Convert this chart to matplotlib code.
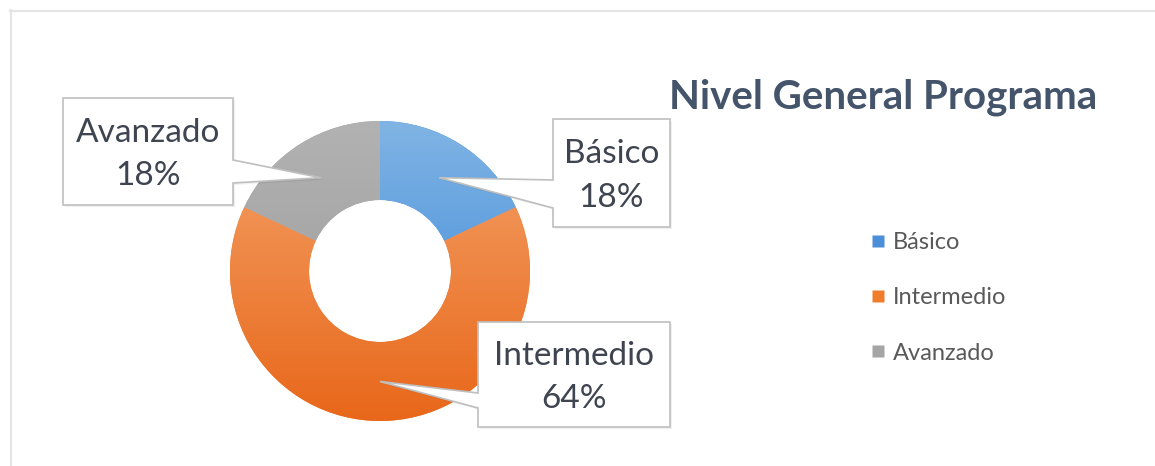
import numpy as np
import matplotlib.pyplot as plt
from matplotlib.colors import LinearSegmentedColormap
from matplotlib.patches import Polygon
from matplotlib.lines import Line2D

# Data
labels = ["Básico", "Intermedio", "Avanzado"]
values = [18, 64, 18]
pct_labels = ["18%", "64%", "18%"]

# Colours (light top -> darker bottom gradient, plus flat legend colours)
top_colors = ["#80B4E4", "#F4A36A", "#B2B2B2"]
bottom_colors = ["#3282D6", "#E8671A", "#989898"]
legend_colors = ["#4A8FD8", "#F07D2C", "#A5A5A5"]

TEXT_COLOR = "#3E4450"
TITLE_COLOR = "#44546A"
EDGE_COLOR = "#BFBFBF"
FONT = "Lato"

W, H = 1155, 466
fig = plt.figure(figsize=(W / 100, H / 100), dpi=100)
ax = fig.add_axes([0, 0, 1, 1])


def img(x, y):
    # image pixel coords -> data coords
    return x, H - y


cx, cy = img(380, 271)
R = 150
ring_width = 79

wedges, _ = ax.pie(
    values,
    startangle=90,
    counterclock=False,
    radius=R,
    center=(cx, cy),
    colors=legend_colors,
    wedgeprops=dict(width=ring_width, edgecolor="none"),
)

# vertical gradient fill clipped to each wedge
grad = np.linspace(0, 1, 256).reshape(-1, 1)
for w, c_top, c_bot in zip(wedges, top_colors, bottom_colors):
    cmap = LinearSegmentedColormap.from_list("g", [c_bot, c_top])
    im = ax.imshow(grad, cmap=cmap, origin="lower", aspect="auto",
                   extent=(cx - R, cx + R, cy - R, cy + R), zorder=2)
    im.set_clip_path(w)

# Callout boxes: (left, top, right, bottom) in image px, side of notch, notch span
boxes = [
    ((553, 119, 670, 227), "left", (180, 208)),
    ((478, 322, 670, 427), "left", (393, 408)),
    ((63, 98, 233, 205), "right", (160, 183)),
]

total = sum(values)
start = 90.0
tip_r = R - ring_width * 0.5
for (box, side, notch), lab, pct, v in zip(boxes, labels, pct_labels, values):
    mid = np.deg2rad(start - v / total * 360 / 2)
    start -= v / total * 360
    tx, ty = cx + tip_r * np.cos(mid), cy + tip_r * np.sin(mid)
    x0, y0, x1, y1 = box
    if side == "left":
        pts = [img(x0, y0), img(x1, y0), img(x1, y1), img(x0, y1),
               img(x0, notch[1]), (tx, ty), img(x0, notch[0])]
    else:
        pts = [img(x0, y0), img(x1, y0), img(x1, notch[0]), (tx, ty),
               img(x1, notch[1]), img(x1, y1), img(x0, y1)]
    shadow = Polygon([(px + 2, py - 2) for px, py in pts], closed=True,
                     facecolor="#000000", alpha=0.06, edgecolor="none", zorder=3)
    ax.add_patch(shadow)
    ax.add_patch(Polygon(pts, closed=True, facecolor="white",
                         edgecolor=EDGE_COLOR, linewidth=1.2, zorder=4))
    bx, by = img((x0 + x1) / 2, (y0 + y1) / 2 + 3)
    ax.text(bx, by, f"{lab}\n{pct}", ha="center", va="center",
            fontsize=24, family=FONT, color=TEXT_COLOR,
            linespacing=1.55, zorder=5)

# Title
tx, ty = img(1097, 97)
ax.text(tx, ty, "Nivel General Programa", ha="right", va="center",
        fontsize=29, fontweight="bold", family=FONT, color=TITLE_COLOR)

# Legend
handles = [Line2D([], [], marker="s", linestyle="none", markersize=8,
                  markerfacecolor=c, markeredgecolor="none") for c in legend_colors]
leg = ax.legend(handles, labels, loc="center left", bbox_to_anchor=(850 / W, 1 - 298 / H),
                frameon=False, handlelength=0.6, handletextpad=0.3,
                labelspacing=1.45, prop=dict(family=FONT, size=17))
for t in leg.get_texts():
    t.set_color("#595959")

# Outer frame lines (top and left)
ax.plot([10, W], [H - 10.5, H - 10.5], color="#E4E4E4", lw=1.5)
ax.plot([10.5, 10.5], [0, H - 10], color="#E4E4E4", lw=1.5)

ax.set_xlim(0, W)
ax.set_ylim(0, H)
ax.set_aspect("auto")
ax.axis("off")

fig.savefig("out.png", dpi=100, facecolor="white")
